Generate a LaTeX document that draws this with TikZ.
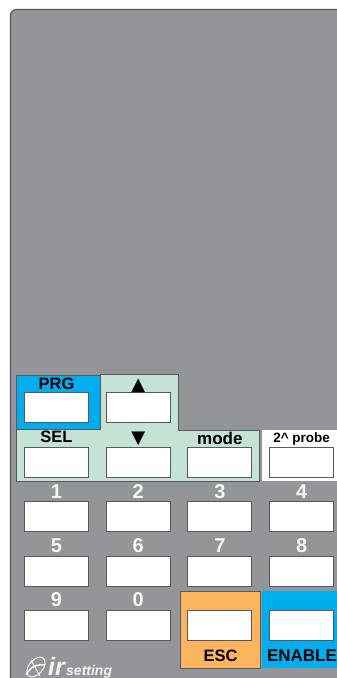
\documentclass[tikz,border=0pt]{standalone}
\usepackage{fontspec}
\setmainfont{Liberation Sans}
\newfontfamily\symbolfont{DejaVu Sans}
\usetikzlibrary{positioning}
\definecolor{panelgray}{HTML}{939598}
\definecolor{edgegray}{HTML}{58595B}
\definecolor{keyblue}{HTML}{00AEEF}
\definecolor{keygreen}{HTML}{C5E3D5}
\definecolor{keyorange}{HTML}{FDB45F}

\begin{document}
\begin{tikzpicture}[
x=1pt,
y=-1pt,
node distance=23.6pt and 16.8pt,
keybox/.style={
rectangle,
draw=edgegray,
line width=0.9pt,
fill=white,
minimum width=64pt,
minimum height=30pt,
inner sep=0pt
},
blockbox/.style={
rectangle,
draw=edgegray,
line width=0.8pt,
anchor=north west,
inner sep=0pt
},
keylabel/.style={
font=\bfseries\fontsize{16.5}{16}\selectfont,
text=black,
inner sep=0pt,
text depth=0pt
},
numlabel/.style={
keylabel,
font=\bfseries\fontsize{20}{20}\selectfont,
text=white!92!panelgray
}
]
\useasboundingbox (0,0) rectangle (337,678);

% Pannello
\path[draw=edgegray, line width=1.2pt, fill=panelgray, rounded corners=6pt]
  (10.5,690) -- (10.5,9.5) -- (350,9.5) -- (350,690) -- cycle;

% Blocchi colorati
\draw[fill=keygreen, draw=edgegray, line width=0.8pt]
  (16,429) -- (100,429) -- (100,374.5) -- (178,374.5) -- (178,430) -- (259,430)
  -- (259,481.5) -- (16,481.5) -- cycle;
\node[blockbox, fill=keyblue, minimum width=84pt, minimum height=54pt] (prg-block) at (16,374.5) {};
\node[blockbox, fill=white, draw=none, minimum width=75pt, minimum height=51pt] (probe-block) at (262,430) {};
\node[blockbox, fill=keyorange, minimum width=80pt, minimum height=77pt] (esc-block) at (180,591) {};
\node[blockbox, fill=keyblue, draw=none, minimum width=75pt, minimum height=77pt] (enable-block) at (262,591) {};

% Tasti
\node[keybox] (prg-key) at (56.5,407.5) {};
\node[keybox, right=of prg-key] (up-key) {};
\node[keybox, below=of prg-key] (sel-key) {};
\node[keybox, right=of sel-key] (down-key) {};
\node[keybox, right=of down-key] (mode-key) {};
\node[keybox, right=of mode-key] (probe-key) {};
\node[keybox, below=of sel-key] (one-key) {};
\node[keybox, right=of one-key] (two-key) {};
\node[keybox, right=of two-key] (three-key) {};
\node[keybox, right=of three-key] (four-key) {};
\node[keybox, below=of one-key] (five-key) {};
\node[keybox, right=of five-key] (six-key) {};
\node[keybox, right=of six-key] (seven-key) {};
\node[keybox, right=of seven-key] (eight-key) {};
\node[keybox, below=of five-key] (nine-key) {};
\node[keybox, right=of nine-key] (zero-key) {};
\node[keybox, right=of zero-key] (esc-key) {};
\node[keybox, right=of esc-key] (enable-key) {};

% Scritte
\node[keylabel, above=2pt of prg-key] (prg-label) {PRG};
\node[keylabel, above=3.5pt of sel-key] (sel-label) {SEL};
\node[keylabel, font=\bfseries\fontsize{17}{16}\selectfont, above=1.5pt of mode-key] (mode-label) {mode};
\node[keylabel, font=\bfseries\fontsize{13.5}{13}\selectfont, above=4pt of probe-key] (probe-label) {2\textasciicircum{} probe};
\node[keylabel, font=\symbolfont\fontsize{18}{18}\selectfont, above=1pt of up-key] (up-label) {▲};
\node[keylabel, font=\symbolfont\fontsize{18}{18}\selectfont, above=3pt of down-key] (down-label) {▼};
\node[numlabel, above=2pt of one-key] (one-label) {1};
\node[numlabel, above=2pt of two-key] (two-label) {2};
\node[numlabel, above=2pt of three-key] (three-label) {3};
\node[numlabel, above=2pt of four-key] (four-label) {4};
\node[numlabel, above=3pt of five-key] (five-label) {5};
\node[numlabel, above=3pt of six-key] (six-label) {6};
\node[numlabel, above=3pt of seven-key] (seven-label) {7};
\node[numlabel, above=3pt of eight-key] (eight-label) {8};
\node[numlabel, above=3pt of nine-key] (nine-label) {9};
\node[numlabel, above=3pt of zero-key] (zero-label) {0};
\node[keylabel, anchor=base] (esc-label) at (220.5,661) {ESC};
\node[keylabel, anchor=base, font=\bfseries\fontsize{17}{16}\selectfont] (enable-label) at (302,661) {ENABLE};

% Logo
\draw[white!90!panelgray, line width=1pt, rotate around={50:(36,667)}] (36,667) ellipse (11.5pt and 7pt);
\draw[white!90!panelgray, line width=1.5pt] (26,675) .. controls (31,666) and (37,664) .. (45,665);
\draw[white!90!panelgray, line width=1pt] (31,660) -- (40,676);
\node[inner sep=0pt, text=white!90!panelgray, anchor=base west, font=\bfseries\itshape\fontsize{25}{25}\selectfont] (ir-label) at (48,675) {ir};
\node[inner sep=0pt, text=white!90!panelgray, anchor=base west, font=\bfseries\itshape\fontsize{14}{14}\selectfont] (setting-label) at (66,675) {setting};
\end{tikzpicture}
\end{document}
